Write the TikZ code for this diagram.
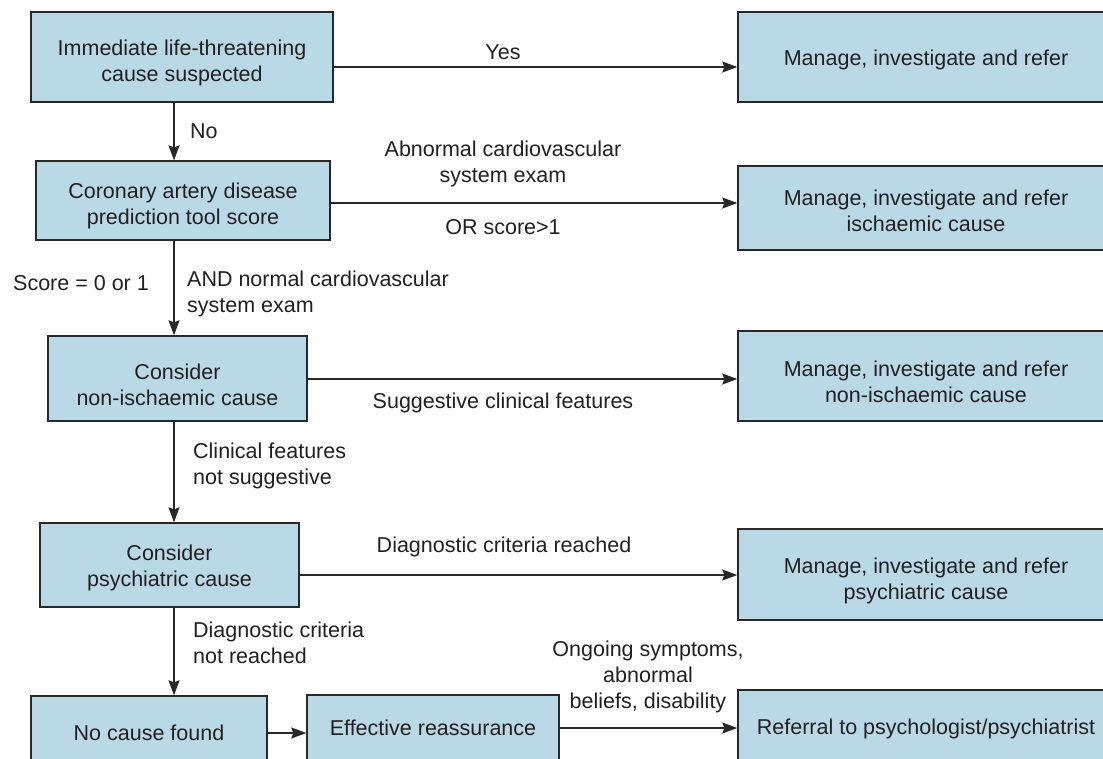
\documentclass[tikz,border=0pt]{standalone}
\usepackage{fontspec}
\setmainfont{Liberation Sans}
\usetikzlibrary{arrows.meta}
\definecolor{boxfill}{RGB}{186,217,230}
\definecolor{boxline}{RGB}{40,40,40}
\definecolor{txt}{RGB}{35,31,32}
\begin{document}
\begin{tikzpicture}[x=1pt,y=-1pt,
  font=\fontsize{21.5}{26}\selectfont, text=txt,
  box/.style={draw=boxline, line width=1.4pt, fill=boxfill, inner sep=0pt},
  boxtext/.style={align=center, inner sep=0pt},
  lbl/.style={align=center, inner sep=0pt},
  lbll/.style={align=left, inner sep=0pt, anchor=west},
  arr/.style={draw=boxline, line width=1.3pt, -{Stealth[length=15pt, width=11pt, inset=2pt]}}]
\useasboundingbox (0,0) rectangle (1103,758);
\clip (0,0) rectangle (1103,758);
% boxes, left column
\node[box, minimum width=302pt, minimum height=90pt] (A) at (182,57) {};
\node[box, minimum width=294pt, minimum height=79pt] (B) at (183,200.5) {};
\node[box, minimum width=259pt, minimum height=85pt] (C) at (177.5,378.5) {};
\node[box, minimum width=259pt, minimum height=84pt] (D) at (169.5,565) {};
\node[box, minimum width=236pt, minimum height=74pt] (E) at (149,733) {};
\node[box, minimum width=252pt, minimum height=66pt] (F) at (433,728) {};
% boxes, right column
\node[box, minimum width=376pt, minimum height=90pt] (R1) at (926,57) {};
\node[box, minimum width=376pt, minimum height=84pt] (R2) at (926,208) {};
\node[box, minimum width=376pt, minimum height=90pt] (R3) at (926,376) {};
\node[box, minimum width=376pt, minimum height=91pt] (R4) at (926,574.5) {};
\node[box, minimum width=376pt, minimum height=74pt] (G) at (926,727) {};
% box texts
\node[boxtext] (At) at ([yshift=-6pt]A.center) {Immediate life-threatening\\cause suspected};
\node[boxtext] (Bt) at ([yshift=-5pt]B.center) {Coronary artery disease\\prediction tool score};
\node[boxtext] (Ct) at ([yshift=-6pt]C.center) {Consider\\non-ischaemic cause};
\node[boxtext] (Dt) at ([yshift=-3pt]D.center) {Consider\\psychiatric cause};
\node[boxtext] (Et) at (E.center) {No cause found};
\node[boxtext] (Ft) at (F.center) {Effective reassurance};
\node[boxtext] (R1t) at ([yshift=-3pt]R1.center) {Manage, investigate and refer};
\node[boxtext] (R2t) at ([yshift=-3pt]R2.center) {Manage, investigate and refer\\ischaemic cause};
\node[boxtext] (R3t) at ([yshift=-6pt]R3.center) {Manage, investigate and refer\\non-ischaemic cause};
\node[boxtext] (R4t) at ([yshift=-6pt]R4.center) {Manage, investigate and refer\\psychiatric cause};
\node[boxtext] (Gt) at ([yshift=-2pt]G.center) {Referral to psychologist/psychiatrist};
% helper coordinates
\coordinate (vx) at (174,0);
\coordinate (r1) at (0,67);
\coordinate (r2) at (0,203);
\coordinate (r3) at (0,379);
\coordinate (r4) at (0,575);
\coordinate (r5) at (0,733);
\coordinate (r6) at (0,728);
% vertical arrows
\draw[arr] (A.south -| vx) -- (B.north -| vx);
\draw[arr] (B.south -| vx) -- (C.north -| vx);
\draw[arr] (C.south -| vx) -- (D.north -| vx);
\draw[arr] (D.south -| vx) -- (E.north -| vx);
% horizontal arrows
\draw[arr] (A.east |- r1) -- (R1.west |- r1);
\draw[arr] (B.east |- r2) -- (R2.west |- r2);
\draw[arr] (C.east |- r3) -- (R3.west |- r3);
\draw[arr] (D.east |- r4) -- (R4.west |- r4);
\draw[arr] (E.east |- r5) -- (F.west |- r5);
\draw[arr] (F.east |- r6) -- (G.west |- r6);
% labels
\node[lbl] (lyes) at (503,52) {Yes};
\node[lbll] (lno) at (190,131) {No};
\node[lbl] (labn) at (503,164) {Abnormal cardiovascular\\system exam};
\node[lbl] (lor) at (503,227) {OR score>1};
\node[lbll] (lscore) at (13,283) {Score = 0 or 1};
\node[lbll] (land) at (187,294) {AND normal cardiovascular\\system exam};
\node[lbll] (lclin) at (193,466) {Clinical features\\not suggestive};
\node[lbl] (lsugg) at (503,403) {Suggestive clinical features};
\node[lbl] (ldiag) at (504,547) {Diagnostic criteria reached};
\node[lbll] (ldiagn) at (193,643) {Diagnostic criteria\\not reached};
\node[lbl] (long) at (648,677) {Ongoing symptoms,\\abnormal\\beliefs, disability};
\end{tikzpicture}
\end{document}
